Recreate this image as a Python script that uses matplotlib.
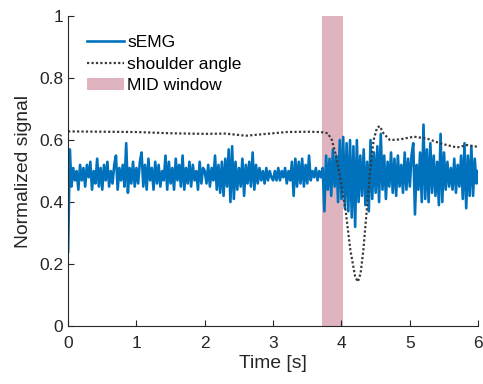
import numpy as np
from matplotlib import pyplot as plt

# Main graph options
XLABEL = "Time [s]"
YLABEL = "Normalized signal"
TICKFONTSIZE = 12.5
LABELFONTSIZE = 13.9
TEXTCOLOR = '#262626'

# Color options
EMGCOLOR = '#0072BD'
ANGLECOLOR = '#3a3a3a'
WINDOWCOLOR = '#b2445f'

# Data
EMG_STEP = 0.025   # seconds between sEMG samples
emg_values = [
    # 0 - 1 s
    0.24, 0.57, 0.45, 0.51, 0.47, 0.50, 0.44, 0.52, 0.47, 0.51,
    0.45, 0.52, 0.48, 0.53, 0.44, 0.50, 0.46, 0.54, 0.45, 0.51,
    0.44, 0.52, 0.47, 0.53, 0.45, 0.50, 0.46, 0.52, 0.55, 0.44,
    0.51, 0.47, 0.52, 0.45, 0.59, 0.43, 0.51, 0.46, 0.53, 0.45,
    # 1 - 2 s
    0.51, 0.46, 0.53, 0.56, 0.45, 0.52, 0.44, 0.54, 0.47, 0.51,
    0.44, 0.53, 0.46, 0.52, 0.45, 0.50, 0.47, 0.55, 0.44, 0.53,
    0.46, 0.51, 0.44, 0.54, 0.47, 0.52, 0.45, 0.55, 0.44, 0.51,
    0.46, 0.53, 0.45, 0.52, 0.47, 0.50, 0.44, 0.53, 0.46, 0.51,
    # 2 - 3 s
    0.50, 0.46, 0.52, 0.45, 0.51, 0.47, 0.55, 0.44, 0.52, 0.43,
    0.53, 0.42, 0.54, 0.45, 0.57, 0.40, 0.58, 0.41, 0.53, 0.44,
    0.51, 0.45, 0.54, 0.42, 0.52, 0.46, 0.53, 0.45, 0.56, 0.44,
    0.52, 0.46, 0.51, 0.47, 0.50, 0.46, 0.51, 0.47, 0.50, 0.48,
    # 3 - 4 s
    0.47, 0.50, 0.47, 0.51, 0.47, 0.50, 0.48, 0.51, 0.46, 0.50,
    0.47, 0.53, 0.42, 0.54, 0.45, 0.53, 0.46, 0.54, 0.45, 0.52,
    0.46, 0.55, 0.47, 0.50, 0.48, 0.51, 0.47, 0.50, 0.48, 0.51,
    0.37, 0.55, 0.44, 0.54, 0.42, 0.57, 0.45, 0.55, 0.40, 0.60,
    # 4 - 5 s
    0.41, 0.61, 0.38, 0.59, 0.37, 0.60, 0.35, 0.58, 0.32, 0.60,
    0.40, 0.55, 0.42, 0.57, 0.39, 0.53, 0.37, 0.60, 0.41, 0.56,
    0.43, 0.58, 0.40, 0.62, 0.44, 0.55, 0.41, 0.53, 0.45, 0.56,
    0.43, 0.54, 0.42, 0.55, 0.45, 0.52, 0.43, 0.56, 0.44, 0.54,
    # 5 - 6 s
    0.45, 0.55, 0.59, 0.36, 0.52, 0.44, 0.56, 0.40, 0.65, 0.41,
    0.57, 0.40, 0.59, 0.43, 0.55, 0.42, 0.53, 0.39, 0.62, 0.40,
    0.56, 0.44, 0.53, 0.45, 0.51, 0.44, 0.54, 0.43, 0.52, 0.45,
    0.55, 0.41, 0.59, 0.38, 0.55, 0.42, 0.58, 0.42, 0.54, 0.46,
    0.50,
]

angle_times = [0.0, 0.5, 1.0, 1.5, 2.0, 2.3, 2.6, 2.9, 3.2, 3.5, 3.7, 3.8,
               3.86, 3.92, 3.98, 4.06, 4.13, 4.2, 4.24, 4.28, 4.32, 4.37,
               4.42, 4.47, 4.52, 4.56, 4.62, 4.71, 4.85, 5.06, 5.25, 5.45,
               5.69, 5.84, 6.0]
angle_values = [0.628, 0.627, 0.626, 0.622, 0.620, 0.621, 0.614, 0.620, 0.626,
                0.627, 0.626, 0.622, 0.600, 0.550, 0.480, 0.374, 0.245, 0.159,
                0.143, 0.170, 0.245, 0.374, 0.503, 0.600, 0.640, 0.645, 0.620,
                0.600, 0.602, 0.611, 0.605, 0.589, 0.576, 0.584, 0.578]

window_start = 3.72
window_end = 4.02

xticks = [0, 1, 2, 3, 4, 5, 6]
yticks = [0, 0.2, 0.4, 0.6, 0.8, 1]
ytick_labels = ["0", "0.2", "0.4", "0.6", "0.8", "1"]

plt.rcParams['font.family'] = ['Liberation Sans', 'DejaVu Sans']

emg_times = np.arange(len(emg_values)) * EMG_STEP

fig = plt.figure(figsize=(4.83, 3.84), dpi=100)
ax = fig.add_axes([0.141, 0.151, 0.849, 0.807])

ax.plot(emg_times, emg_values, color=EMGCOLOR, lw=1.9, label="sEMG")
ax.plot(angle_times, angle_values, color=ANGLECOLOR, lw=1.6, ls=(0, (1, 1)),
        label="shoulder angle")
ax.axvspan(window_start, window_end, color=WINDOWCOLOR, alpha=0.4, lw=0,
           label="MID window")

ax.set_xlim(0, 6)
ax.set_ylim(0, 1)
ax.set_xticks(xticks)
ax.set_yticks(yticks)
ax.set_yticklabels(ytick_labels)
ax.tick_params(direction='in', length=4, width=0.8, colors=TEXTCOLOR,
               labelsize=TICKFONTSIZE)
ax.tick_params(axis='x', pad=7)
for side in ['top', 'right']:
    ax.spines[side].set_visible(False)
for side in ['left', 'bottom']:
    ax.spines[side].set_color(TEXTCOLOR)
    ax.spines[side].set_linewidth(0.8)

ax.set_xlabel(XLABEL, fontsize=LABELFONTSIZE, color=TEXTCOLOR, labelpad=3)
ax.set_ylabel(YLABEL, fontsize=LABELFONTSIZE, color=TEXTCOLOR, labelpad=5)

leg = ax.legend(loc='upper left', bbox_to_anchor=(0.045, 0.94), frameon=False,
                fontsize=TICKFONTSIZE, handlelength=2.15, handletextpad=0.2,
                labelspacing=0.38, borderpad=0, borderaxespad=0)
for t in leg.get_texts():
    t.set_color('black')

fig.savefig("out.png", dpi=100)
